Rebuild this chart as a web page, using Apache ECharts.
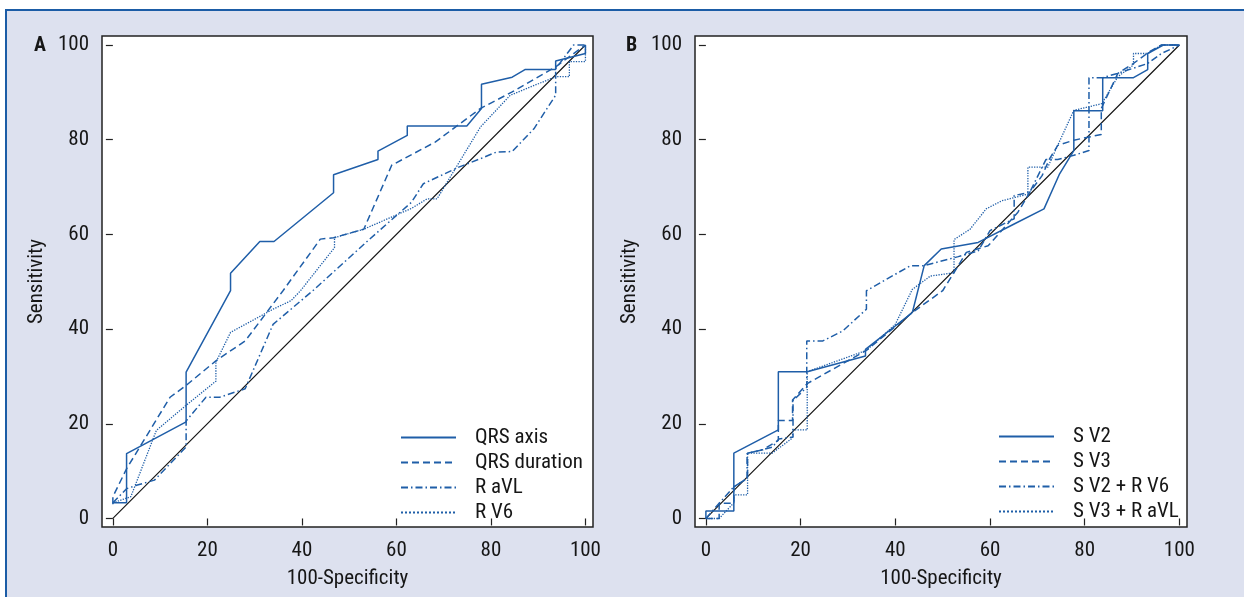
<!DOCTYPE html>
<html>
<head>
<meta charset="utf-8">
<script src="https://cdn.jsdelivr.net/npm/echarts@6/dist/echarts.min.js"></script>
<style>
    html, body { margin: 0; padding: 0; background: #fff; }
    .frame {
        position: absolute;
        left: 5px; top: 9px;
        width: 1300px; height: 700px;
        border-top: 2px solid #1b5ca6;
        border-left: 2px solid #1b5ca6;
        background: #dde1ef;
    }
    #chart { position: absolute; left: 0; top: 0; width: 1244px; height: 597px; }
</style>
</head>
<body>
<div class="frame"></div>
<div id="chart"></div>
<script>
// axis ticks (both panels)
var tickValues = [0, 20, 40, 60, 80, 100];
var diagonal = [[0, 0], [100, 100]];

// panel A  [100-specificity, sensitivity]
var namesA = ['QRS axis', 'QRS duration', 'R aVL', 'R V6'];
var qrsAxis = [[0, 3.3], [2.9, 3.3], [2.9, 13.7], [15.5, 20.4], [15.5, 30.9], [24.9, 48.1], [24.9, 51.8],
    [31.1, 58.5], [34.1, 58.5], [46.7, 68.8], [46.7, 72.6], [56.1, 75.8], [56.1, 77.6], [62.3, 80.9],
    [62.3, 82.9], [74.9, 82.9], [78, 86.6], [78, 91.7], [84.5, 93.2], [87.2, 94.8], [93.7, 94.8],
    [93.7, 96.6], [100, 98.2], [100, 100]];
var qrsDuration = [[0, 3], [0, 4.6], [2.9, 10.5], [12.1, 25.6], [15.5, 28.1], [21.8, 33.3], [28, 37.5],
    [36, 48.1], [43.9, 59], [46.7, 59.3], [53.1, 61.1], [59, 74.6], [68.2, 79.5], [77.8, 86.6],
    [84.5, 90.1], [93.7, 95.4], [97.5, 98.2], [100, 100]];
var rAvl = [[0, 3.3], [2.9, 6.3], [5, 7], [8.8, 8.1], [15.5, 15.1], [15.5, 20.6], [19.7, 25.6], [22.6, 25.6],
    [28, 27.4], [33.9, 41], [42.3, 48.1], [54, 58.7], [63.2, 66.8], [65.7, 70.7], [73.2, 74.2],
    [77.8, 76], [81.2, 77.4], [84.5, 77.5], [89.1, 82.3], [93.7, 89.4], [93.7, 95], [97.5, 100], [100, 100]];
var rV6 = [[0, 3.3], [3.8, 4.6], [9.2, 18.6], [15.5, 23.9], [21.8, 29], [21.8, 33], [24.9, 39.3],
    [33.9, 44.2], [37.7, 46], [39.7, 48.1], [46.9, 57.2], [46.9, 59.3], [53.1, 61.1], [63.2, 65.5],
    [66.5, 67.5], [68.6, 67.5], [77.8, 82.7], [84.1, 89.4], [93.7, 93.3], [96.6, 93.3], [96.6, 96.5],
    [100, 96.5], [100, 100]];

// panel B
var namesB = ['S V2', 'S V3', 'S V2 + R V6', 'S V3 + R aVL'];
var sV2 = [[0, 0], [0, 1.6], [5.9, 1.6], [5.9, 13.8], [15.3, 18.7], [15.3, 31], [21.4, 31], [33.7, 34.3],
    [33.7, 35.7], [43.6, 43.5], [46.1, 53.4], [49.7, 56.9], [57.5, 58.3], [65.1, 62.2], [71.4, 65.4],
    [74.7, 72.8], [77.7, 77.7], [77.7, 86.1], [83.8, 86.1], [83.8, 93.1], [90.3, 93.1], [93.3, 94.8],
    [93.3, 98.2], [96.6, 100], [100, 100]];
var sV3 = [[0, 0], [2.8, 0], [2.8, 3.2], [5.9, 3.2], [5.9, 6.7], [8.8, 8.5], [8.8, 13.8], [12, 14.5],
    [15.3, 16.5], [15.3, 20.7], [18.3, 20.7], [18.3, 25], [21.4, 28.5], [33.9, 35.5], [43.6, 43.5],
    [50, 48.1], [53.3, 53.4], [55, 56.2], [59.6, 57.6], [65.9, 64.7], [68.4, 68.9], [71, 72.4],
    [72.6, 76], [74.3, 78.8], [77.7, 79.9], [83.5, 81.1], [83.5, 86.6], [87, 94], [90.3, 96.1],
    [93.7, 98.6], [96.2, 100], [100, 100]];
var sV2rV6 = [[0, 0], [2.8, 3.2], [5.9, 6.7], [8.7, 8.4], [8.7, 13.7], [14.1, 15.1], [15.4, 16.8],
    [18.4, 17.2], [18.4, 24.9], [21.3, 27.7], [21.3, 37.5], [24.7, 37.5], [28.9, 39.6], [33.9, 44.2],
    [33.9, 48.1], [43.2, 53.4], [46.1, 53.4], [53.3, 55.3], [57.5, 56.5], [60, 60.8], [65.1, 63.3],
    [65.1, 68.2], [68.4, 68.9], [71.8, 75.8], [74.3, 75.8], [77.7, 76.7], [80.9, 77.7], [80.9, 93.1],
    [83.8, 93.1], [86.9, 94], [90.3, 95.1], [93.3, 96.1], [96.2, 98.2], [100, 100]];
var sV3rAvl = [[0, 0], [2.8, 0], [5.9, 3.3], [5.9, 5], [8.8, 5], [8.8, 13.8], [14, 13.8], [18.3, 17],
    [18.3, 18.7], [21.4, 18.7], [21.4, 31], [33.9, 35.5], [40, 41], [43.6, 48.4], [47.4, 51.2],
    [52.4, 51.9], [52.4, 58.9], [55.8, 61.1], [59.2, 65.4], [62.5, 67.1], [68, 68.5], [68, 74.2],
    [72.2, 74.2], [74.3, 78.8], [77.7, 86.2], [83.6, 87.6], [87, 93.3], [90.3, 95.8], [90.3, 98.2],
    [93.3, 98.2], [96.2, 100], [100, 100]];

var blue = '#1f5ea8';
var ink = '#161616';
var font = '"Roboto Condensed", "DejaVu Sans Condensed", sans-serif';
var styles = [
    { type: 'solid', width: 1.5 },
    { type: [7, 4], width: 1.5 },
    { type: [7, 3, 1.5, 3], width: 1.5 },
    { type: 'dotted', width: 1.3 }
];

function makeAxes(idx) {
    var tick = { show: true, length: 7, customValues: tickValues, lineStyle: { color: '#222', width: 1.2 } };
    var label = { customValues: tickValues, margin: 13, fontFamily: font, fontSize: 21, color: ink };
    var xa = {
        gridIndex: idx, type: 'value', min: -2.3, max: 101.6,
        name: '100-Specificity', nameLocation: 'middle', nameGap: 41,
        nameTextStyle: { fontFamily: font, fontSize: 21, color: ink, verticalAlign: 'top' },
        axisLine: { show: false }, axisTick: tick, axisLabel: label,
        splitLine: { show: false }
    };
    var ya = {
        gridIndex: idx, type: 'value', min: -1.8, max: 101.9,
        name: 'Sensitivity', nameLocation: 'middle', nameGap: 55,
        nameTextStyle: { fontFamily: font, fontSize: 21, color: ink },
        axisLine: { show: false }, axisTick: tick, axisLabel: label,
        splitLine: { show: false }
    };
    return [xa, ya];
}

function curve(name, data, idx, k) {
    return {
        name: name, type: 'line', data: data, xAxisIndex: idx, yAxisIndex: idx,
        symbol: 'none', silent: true,
        lineStyle: { color: blue, width: styles[k].width, type: styles[k].type },
        itemStyle: { color: blue }
    };
}

function refLine(idx) {
    return {
        type: 'line', data: diagonal, xAxisIndex: idx, yAxisIndex: idx, symbol: 'none', silent: true,
        lineStyle: { color: '#111', width: 1.1 }, z: 1
    };
}

function makeLegend(names, left, top) {
    return {
        data: names, orient: 'vertical', left: left, top: top, padding: 0, z: 10,
        itemWidth: 55, itemHeight: 14, itemGap: 4, selectedMode: false,
        itemStyle: { color: 'transparent', borderColor: 'transparent', borderWidth: 0 },
        textStyle: { fontFamily: font, fontSize: 21, color: ink, lineHeight: 21, padding: [0, 0, 0, 14] }
    };
}

var a0 = makeAxes(0), a1 = makeAxes(1);
var chart = echarts.init(document.getElementById('chart'));
chart.setOption({
    animation: false,
    backgroundColor: 'transparent',
    grid: [
        { left: 102, top: 36, width: 491, height: 491, show: true, backgroundColor: '#fff',
          borderColor: '#222', borderWidth: 1.5 },
        { left: 695, top: 36, width: 492, height: 491, show: true, backgroundColor: '#fff',
          borderColor: '#222', borderWidth: 1.5 }
    ],
    xAxis: [a0[0], a1[0]],
    yAxis: [a0[1], a1[1]],
    legend: [makeLegend(namesA, 400, 427), makeLegend(namesB, 998, 426)],
    graphic: [
        { type: 'text', left: 34, top: 36, style: { text: 'A', font: 'bold 20px ' + font, fill: ink } },
        { type: 'text', left: 626, top: 36, style: { text: 'B', font: 'bold 20px ' + font, fill: ink } }
    ],
    series: [
        refLine(0),
        curve(namesA[0], qrsAxis, 0, 0),
        curve(namesA[1], qrsDuration, 0, 1),
        curve(namesA[2], rAvl, 0, 2),
        curve(namesA[3], rV6, 0, 3),
        refLine(1),
        curve(namesB[0], sV2, 1, 0),
        curve(namesB[1], sV3, 1, 1),
        curve(namesB[2], sV2rV6, 1, 2),
        curve(namesB[3], sV3rAvl, 1, 3)
    ]
});
</script>
</body>
</html>
